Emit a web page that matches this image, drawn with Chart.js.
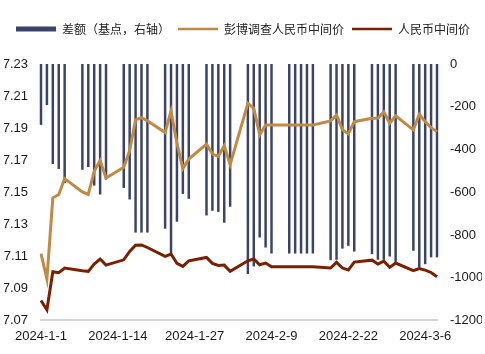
<!DOCTYPE html>
<html>
<head>
<meta charset="utf-8">
<script src="https://cdn.jsdelivr.net/npm/chart.js@4.4.1/dist/chart.umd.min.js"></script>
<style>
  html, body { margin: 0; padding: 0; background: #fff; }
  #wrap { width: 485px; height: 354px; }
</style>
</head>
<body>
<div id="wrap"><canvas id="myChart"></canvas></div>
<script>
// x ticks shown (every 13 days)
const tickLabels = ["2024-1-1", "2024-1-14", "2024-1-27", "2024-2-9", "2024-2-22", "2024-3-6"];

// one category per calendar day, 2024-1-1 .. 2024-3-8 (weekends are null)
const dayCount = 68;
const categories = [];
for (let i = 0; i < dayCount; i++) {
  const d = new Date(2024, 0, 1 + i);
  categories.push(`${d.getFullYear()}-${d.getMonth() + 1}-${d.getDate()}`);
}

// 差额（基点）
const spread = [
  -285, -192, -468, -491, -557, null, null,
  -495, -482, -569, -611, -541, null, null,
  -580, -634, -789, -789, -789, null, null,
  -771, -890, -738, -608, -631, null, null,
  -709, -687, -692, -743, -668, null, null,
  -983, -947, -812, -859, -887, null, null,
  -887, -887, -887, -887, -887, null, null,
  -918, -916, -864, -851, -878, null, null,
  -890, -916, -916, -901, -926, null, null,
  -874, -952, -937, -905, -905
];

// 彭博调查人民币中间价
const bloomberg = [
  7.1117, 7.0958, 7.1465, 7.1486, 7.1585, null, null,
  7.1502, 7.1486, 7.1630, 7.1698, 7.1589, null, null,
  7.1655, 7.1760, 7.1951, 7.1965, 7.1946, null, null,
  7.1872, 7.2007, 7.1806, 7.1647, 7.1707, null, null,
  7.1800, 7.1738, 7.1723, 7.1789, 7.1672, null, null,
  7.2054, 7.2023, 7.1858, 7.1920, 7.1920, null, null,
  7.1920, 7.1920, 7.1920, 7.1920, 7.1920, null, null,
  7.1945, 7.1982, 7.1889, 7.1864, 7.1940, null, null,
  7.1961, 7.1961, 7.2002, 7.1930, 7.1976, null, null,
  7.1889, 7.1986, 7.1940, 7.1903, 7.1878
];

// 人民币中间价
const fixing = [
  7.0824, 7.0766, 7.1004, 7.0998, 7.1027, null, null,
  7.1010, 7.1006, 7.1052, 7.1083, 7.1045, null, null,
  7.1078, 7.1130, 7.1169, 7.1171, 7.1155, null, null,
  7.1099, 7.1114, 7.1056, 7.1037, 7.1072, null, null,
  7.1093, 7.1056, 7.1043, 7.1045, 7.1006, null, null,
  7.1072, 7.1083, 7.1047, 7.1058, 7.1035, null, null,
  7.1035, 7.1035, 7.1035, 7.1035, 7.1035, null, null,
  7.1027, 7.1062, 7.1027, 7.1014, 7.1064, null, null,
  7.1076, 7.1052, 7.1070, 7.1031, 7.1058, null, null,
  7.1010, 7.1024, 7.1014, 7.0999, 7.0973
];

const tickFont = { family: "'Liberation Sans', Arial, sans-serif", size: 13 };

// extra space under the legend
const legendGap = {
  id: "legendGap",
  beforeInit(chart) {
    const fit = chart.legend.fit;
    chart.legend.fit = function () {
      fit.bind(chart.legend)();
      this.height += 19;
    };
  }
};

new Chart("myChart", {
  type: "bar",
  data: {
    labels: categories,
    datasets: [
      {
        label: "差额（基点，右轴）",
        data: spread,
        backgroundColor: "#3b4468",
        borderWidth: 0,
        categoryPercentage: 1,
        barPercentage: 0.42,
        yAxisID: "y1",
        order: 3,
        clip: false
      },
      {
        type: "line",
        label: "彭博调查人民币中间价",
        data: bloomberg,
        borderColor: "#c08a45",
        backgroundColor: "#c08a45",
        borderWidth: 3,
        pointRadius: 0,
        tension: 0,
        spanGaps: true,
        yAxisID: "y",
        order: 1
      },
      {
        type: "line",
        label: "人民币中间价",
        data: fixing,
        borderColor: "#7a2000",
        backgroundColor: "#7a2000",
        borderWidth: 3,
        pointRadius: 0,
        tension: 0,
        spanGaps: true,
        yAxisID: "y",
        order: 2
      }
    ]
  },
  options: {
    responsive: true,
    maintainAspectRatio: false,
    animation: false,
    layout: { padding: { top: 15, left: 4, right: 3, bottom: 2 } },
    plugins: {
      tooltip: { enabled: false },
      legend: {
        position: "top",
        labels: {
          usePointStyle: true,
          pointStyleWidth: 40,
          boxHeight: 5,
          padding: 8,
          color: "#222",
          font: { family: "'Noto Sans CJK SC', sans-serif", size: 12 },
          sort: (a, b) => a.datasetIndex - b.datasetIndex,
          generateLabels(chart) {
            const items = Chart.defaults.plugins.legend.labels.generateLabels(chart);
            items.forEach(it => {
              it.pointStyle = it.datasetIndex === 0 ? "rect" : "line";
              if (it.datasetIndex !== 0) it.lineWidth = 2.5;
            });
            return items;
          }
        }
      }
    },
    scales: {
      x: {
        offset: false,
        grid: { display: false, offset: false, drawTicks: false },
        border: { display: true, color: "#d3d3d3", width: 2 },
        ticks: {
          autoSkip: false,
          maxRotation: 0,
          padding: 8,
          color: "#1a1a1a",
          font: tickFont,
          callback: function (value, index) {
            const lab = this.getLabelForValue(value);
            return tickLabels.includes(lab) ? lab : "";
          }
        }
      },
      y: {
        position: "left",
        min: 7.07,
        max: 7.23,
        grid: { display: false, drawTicks: false },
        border: { display: false },
        afterFit(scale) { scale.width = 37; },
        ticks: {
          stepSize: 0.02,
          padding: 13,
          color: "#1a1a1a",
          font: tickFont,
          callback: v => v.toFixed(2)
        }
      },
      y1: {
        position: "right",
        min: -1200,
        max: 0,
        grid: { display: false, drawTicks: false },
        border: { display: false },
        afterFit(scale) { scale.width = 45; },
        ticks: {
          stepSize: 200,
          padding: 13,
          color: "#1a1a1a",
          font: tickFont,
          callback: v => String(v)
        }
      }
    }
  },
  plugins: [legendGap]
});
</script>
</body>
</html>
